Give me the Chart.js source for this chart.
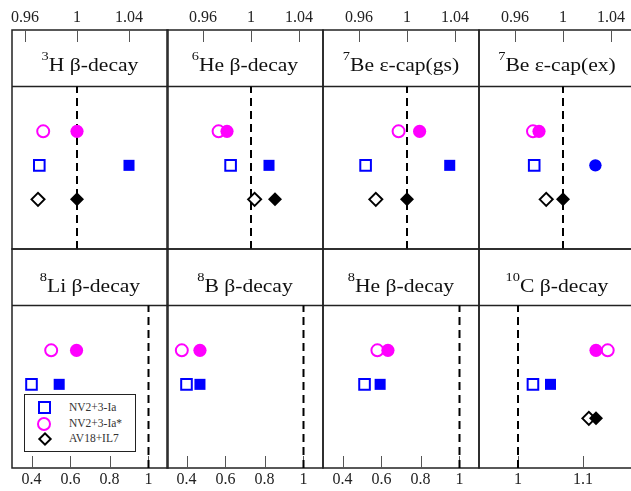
<!DOCTYPE html>
<html>
<head>
<meta charset="utf-8">
<script src="https://cdn.jsdelivr.net/npm/chart.js@4.4.1/dist/chart.umd.min.js"></script>
<style>
  html, body { margin: 0; padding: 0; background: #fff; overflow: hidden; }
  #wrap { position: relative; width: 631px; height: 491px; overflow: hidden; }
  #wrap canvas { position: absolute; }
  .ttl {
    position: absolute; width: 156px; text-align: center; white-space: nowrap;
    font: 18px 'Liberation Serif', 'Times New Roman', serif; line-height: 18px;
    color: #111; transform: scaleX(1.2);
  }
  .ttl sup { font-size: 12px; vertical-align: baseline; position: relative; top: -11px; }
  #legend {
    position: absolute; left: 24px; top: 394px; width: 110px; height: 56px;
    border: 1px solid #222; background: #fff;
  }
  .lg-row { position: absolute; left: 0; height: 14px; width: 110px; }
  .lg-mk { position: absolute; box-sizing: border-box; }
  .lg-tx {
    position: absolute; left: 44px; top: 0; line-height: 14px;
    font: 11.5px 'Liberation Serif', 'Times New Roman', serif; color: #333;
  }
</style>
</head>
<body>
<div id="wrap"></div>
<script>
/* ── Data ─────────────────────────────────────────────── */
const titleSup  = ['3', '6', '7', '7', '8', '8', '8', '10'];
const titleText = ['H β-decay', 'He β-decay', 'Be ε-cap(gs)', 'Be ε-cap(ex)',
                   'Li β-decay', 'B β-decay', 'He β-decay', 'C β-decay'];

// NV2+3-Ia (squares), NV2+3-Ia* (circles), AV18+IL7 (diamonds); open / filled
const sqOpen   = [0.971, 0.983, 0.9655, 0.976, 0.400, 0.400, 0.513, 1.023];
const sqFilled = [1.040, 1.015, 1.0356, 1.027, 0.542, 0.469, 0.593, 1.050];
const ciOpen   = [0.974, 0.973, 0.993, 0.975, 0.501, 0.376, 0.579, 1.138];
const ciFilled = [1.000, 0.980, 1.0105, 0.980, 0.631, 0.469, 0.633, 1.120];
const diOpen   = [0.970, 1.003, 0.974, 0.986, null, null, null, 1.109];
const diFilled = [1.000, 1.020, 1.000, 1.000, null, null, null, 1.120];
const sqFilledShape = ['rect', 'rect', 'rect', 'circle', 'rect', 'rect', 'rect', 'rect'];

const xMin   = [0.95, 0.93, 0.93, 0.93, 0.3, 0.3, 0.3, 0.94];
const xMax   = [1.07, 1.06, 1.06, 1.06, 1.1, 1.1, 1.1, 1.18];
const xTicks = [
  [0.96, 1, 1.04], [0.96, 1, 1.04], [0.96, 1, 1.04], [0.96, 1, 1.04],
  [0.4, 0.6, 0.8, 1], [0.4, 0.6, 0.8, 1], [0.4, 0.6, 0.8, 1], [1, 1.1]
];
const refValue = 1;
const legendLabels = ['NV2+3-Ia', 'NV2+3-Ia*', 'AV18+IL7'];

/* ── Layout ───────────────────────────────────────────── */
const ROW_CIRCLE = 3, ROW_SQUARE = 2, ROW_DIAMOND = 1;
const Y_MIN = -0.46, Y_MAX = 5.98, SEP_Y = 4.32;
const panelLeft = [12, 167, 323, 479];
const PW = 156;
const BLUE = '#0000ff', MAG = '#ff00ff', BLK = '#000';

const wrap = document.getElementById('wrap');

/* ── Frame, separator and inward ticks ────────────────── */
const framePlugin = {
  id: 'frame',
  beforeDatasetsDraw(chart, args, opts) {
    const { ctx, chartArea: a, scales: { x, y } } = chart;
    ctx.save();
    ctx.strokeStyle = '#222';
    ctx.lineWidth = 1.5;
    ctx.strokeRect(a.left, a.top, a.right - a.left, a.bottom - a.top);
    const sy = y.getPixelForValue(SEP_Y);
    ctx.beginPath(); ctx.moveTo(a.left, sy); ctx.lineTo(a.right, sy); ctx.stroke();
    ctx.strokeStyle = '#555';
    ctx.lineWidth = 1;
    x.ticks.forEach(t => {
      const px = Math.round(x.getPixelForValue(t.value)) + 0.5;
      ctx.beginPath();
      if (opts.top) { ctx.moveTo(px, a.top); ctx.lineTo(px, a.top + 12); }
      else          { ctx.moveTo(px, a.bottom); ctx.lineTo(px, a.bottom - 12); }
      ctx.stroke();
    });
    ctx.restore();
  }
};

const pt = (v, row) => v == null ? [] : [{ x: v, y: row }];

function makePanel(i) {
  const top   = i < 4;
  const col   = i % 4;
  const left  = panelLeft[col] - 2;
  const cTop  = top ? 0 : 247;
  const cH    = top ? 251 : 244;
  const cW    = PW + 4;

  const canvas = document.createElement('canvas');
  canvas.width = cW; canvas.height = cH;
  canvas.style.left = left + 'px';
  canvas.style.top  = cTop + 'px';
  canvas.style.width = cW + 'px';
  canvas.style.height = cH + 'px';
  wrap.appendChild(canvas);

  const open   = { borderWidth: 2, backgroundColor: '#fff', order: 2 };
  const filled = { borderWidth: 0, order: 1 };

  new Chart(canvas, {
    type: 'scatter',
    data: {
      datasets: [
        { data: [{ x: refValue, y: Y_MIN }, { x: refValue, y: SEP_Y }], showLine: true,
          borderColor: BLK, borderWidth: 2, borderDash: [8, 5], pointRadius: 0, order: 10 },
        { ...open, data: pt(sqOpen[i], ROW_SQUARE), pointStyle: 'rect', pointRadius: 7.5, borderColor: BLUE },
        { ...filled, data: pt(sqFilled[i], ROW_SQUARE), pointStyle: sqFilledShape[i],
          pointRadius: sqFilledShape[i] === 'circle' ? 6.2 : 7.8, backgroundColor: BLUE, borderColor: BLUE },
        { ...open, data: pt(ciOpen[i], ROW_CIRCLE), pointStyle: 'circle', pointRadius: 6, borderColor: MAG },
        { ...filled, data: pt(ciFilled[i], ROW_CIRCLE), pointStyle: 'circle', pointRadius: 6.6, backgroundColor: MAG, borderColor: MAG },
        { ...open, data: pt(diOpen[i], ROW_DIAMOND), pointStyle: 'rectRot', pointRadius: 6.5, borderColor: BLK },
        { ...filled, data: pt(diFilled[i], ROW_DIAMOND), pointStyle: 'rectRot', pointRadius: 7, backgroundColor: BLK, borderColor: BLK }
      ]
    },
    options: {
      responsive: false,
      animation: false,
      events: [],
      layout: { autoPadding: false, padding: { left: 2, right: 2, top: top ? 0 : 2, bottom: top ? 2 : 0 } },
      plugins: { legend: { display: false }, tooltip: { enabled: false }, frame: { top } },
      scales: {
        x: {
          type: 'linear',
          position: top ? 'top' : 'bottom',
          min: xMin[i], max: xMax[i],
          grid: { display: false, drawTicks: false },
          border: { display: false },
          ticks: {
            autoSkip: false, maxRotation: 0,
            padding: top ? 3 : 2.5,
            color: '#222',
            font: { family: "'Liberation Serif', 'Times New Roman', serif", size: 16 },
            callback: v => String(+Number(v).toFixed(3))
          },
          afterBuildTicks: s => { s.ticks = xTicks[i].map(v => ({ value: v })); },
          afterFit: s => { s.height = top ? 30 : 23; s.paddingLeft = 0; s.paddingRight = 0; }
        },
        y: { type: 'linear', display: false, min: Y_MIN, max: Y_MAX }
      }
    },
    plugins: [framePlugin]
  });

  const t = document.createElement('div');
  t.className = 'ttl';
  t.style.left = panelLeft[col] + 'px';
  t.style.top  = (top ? 56 : 277) + 'px';
  t.innerHTML = `<sup>${titleSup[i]}</sup>${titleText[i]}`;
  wrap.appendChild(t);
}

for (let i = 0; i < 8; i++) makePanel(i);

/* ── Legend ───────────────────────────────────────────── */
const legend = document.createElement('div');
legend.id = 'legend';
const mkStyles = [
  `left:13px;top:0;width:13px;height:13px;border:2px solid ${BLUE};`,
  `left:12px;top:0;width:14px;height:14px;border:2px solid ${MAG};border-radius:50%;`,
  `left:14.5px;top:2px;width:10px;height:10px;border:2px solid ${BLK};transform:rotate(45deg);`
];
legendLabels.forEach((lbl, k) => {
  const row = document.createElement('div');
  row.className = 'lg-row';
  row.style.top = (6 + k * 15.6) + 'px';
  row.innerHTML = `<div class="lg-mk" style="${mkStyles[k]}"></div><div class="lg-tx">${lbl}</div>`;
  legend.appendChild(row);
});
wrap.appendChild(legend);
</script>
</body>
</html>
